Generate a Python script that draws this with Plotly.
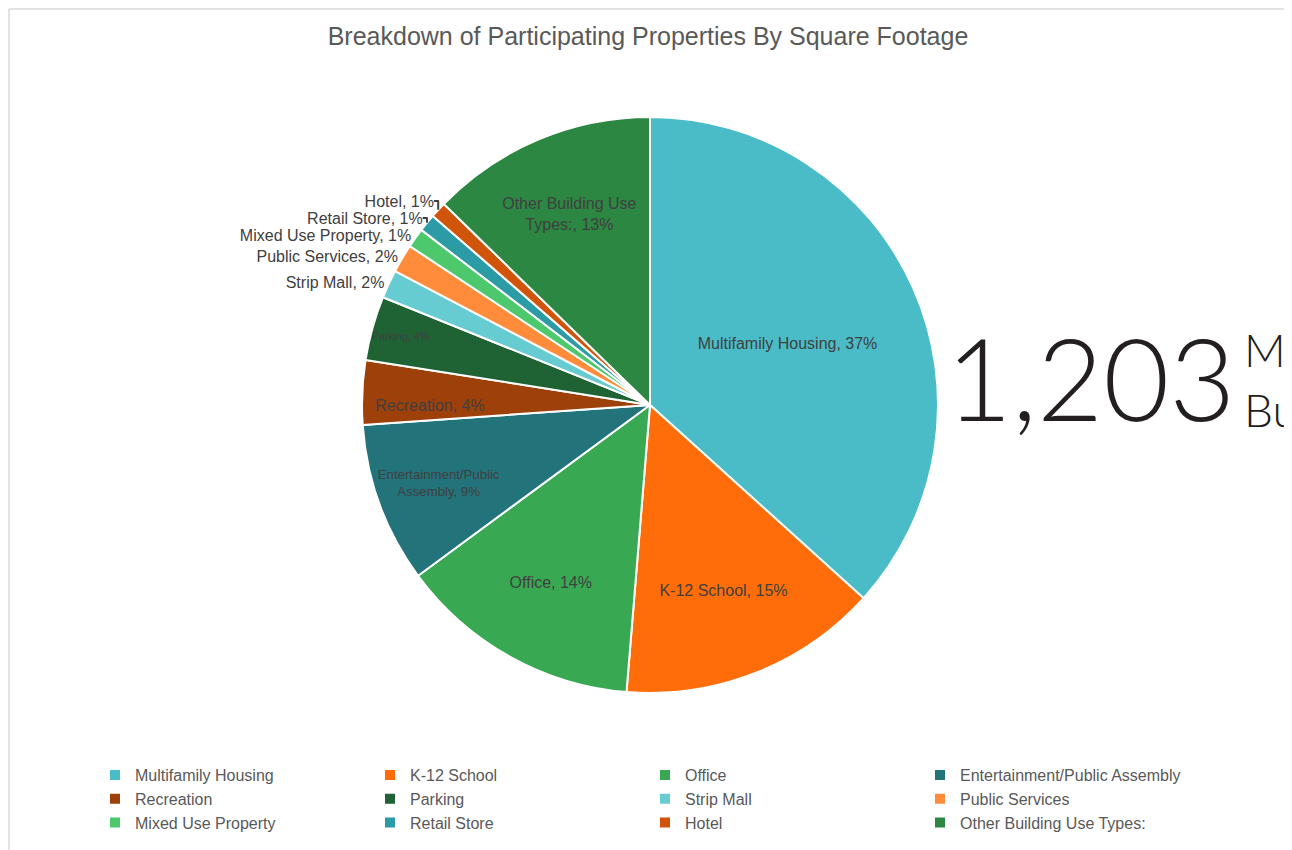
import plotly.graph_objects as go

# share of total square footage (plotly normalises)
categories = [
    "Multifamily Housing", "K-12 School", "Office", "Entertainment/Public Assembly",
    "Recreation", "Parking", "Strip Mall", "Public Services",
    "Mixed Use Property", "Retail Store", "Hotel", "Other Building Use Types:",
]
shares = [36.7, 14.6, 13.6, 9.0, 3.6, 3.6, 1.6, 1.6, 1.1, 1.0, 0.9, 12.7]
slice_text = [
    "Multifamily Housing", "K-12 School", "Office", "Entertainment/Public<br>Assembly",
    "Recreation", "Parking", "Strip Mall", "Public Services",
    "Mixed Use Property", "Retail Store", "Hotel", "Other Building Use<br>Types:",
]
label_pos = ["inside"] * 6 + ["outside"] * 5 + ["inside"]

total_msf = "1,203"

colors = [
    "#4ABCC7", "#FF6D0A", "#38A853", "#23737B",
    "#9E4009", "#1F6234", "#66CCD2", "#FF8C3A",
    "#4DC86C", "#2B9BA5", "#D0540A", "#2B8741",
]

# page body adds an 8px offset; plot area is W - R_MARGIN wide
W, H = 1284, 842
OFF = 8
R_MARGIN = 100
GW = W - R_MARGIN


def px(x):
    return (x - OFF) / GW


def py(y):
    return 1 - (y - OFF) / H


cx, cy, r = 650, 405, 288
label_font = "Liberation Sans, Arial, sans-serif"

fig = go.Figure(go.Pie(
    labels=categories,
    values=shares,
    text=slice_text,
    texttemplate="%{text}, %{percent:.0%}",
    textposition=label_pos,
    insidetextorientation="horizontal",
    textfont=dict(family=label_font, size=16, color="#404040"),
    outsidetextfont=dict(family=label_font, size=16, color="#404040"),
    marker=dict(colors=colors, line=dict(color="#ffffff", width=2)),
    sort=False,
    direction="clockwise",
    rotation=0,
    domain=dict(x=[px(cx - r), px(cx + r)], y=[py(cy + r), py(cy - r)]),
    hoverinfo="label+percent",
))

fig.update_layout(
    width=W, height=H,
    margin=dict(l=0, r=R_MARGIN, t=0, b=0),
    paper_bgcolor="#ffffff",
    plot_bgcolor="#ffffff",
    font=dict(family=label_font, color="#595959", size=16),
    title=dict(
        text="Breakdown of Participating Properties By Square Footage",
        x=(648 - OFF) / W, xanchor="center", y=py(36), yanchor="middle",
        font=dict(size=25, color="#595959"),
    ),
    legend=dict(
        orientation="h",
        x=px(95), xanchor="left",
        y=py(758), yanchor="top",
        entrywidth=230, entrywidthmode="pixels",
        font=dict(size=16, color="#595959"),
        traceorder="normal",
    ),
    annotations=[
        dict(text=total_msf, x=px(944), y=py(376), xref="paper", yref="paper",
             xanchor="left", yanchor="middle", showarrow=False,
             font=dict(family="Lato, DejaVu Sans, sans-serif", size=114, color="#231F20", weight=300)),
        dict(text="M<br>Bu", x=px(1242), y=py(380), xref="paper", yref="paper",
             xanchor="left", yanchor="middle", align="left", showarrow=False,
             font=dict(family="Lato, DejaVu Sans, sans-serif", size=46, color="#231F20", weight=300)),
    ],
    # thin chart-area frame along the top and left edges
    shapes=[
        dict(type="line", xref="paper", yref="paper", x0=px(9), x1=px(1292), y0=py(9), y1=py(9),
             line=dict(color="#D9D9D9", width=1.5)),
        dict(type="line", xref="paper", yref="paper", x0=px(9), x1=px(9), y0=py(850), y1=py(9),
             line=dict(color="#D9D9D9", width=1.5)),
    ],
)

fig.write_html("out.html")
